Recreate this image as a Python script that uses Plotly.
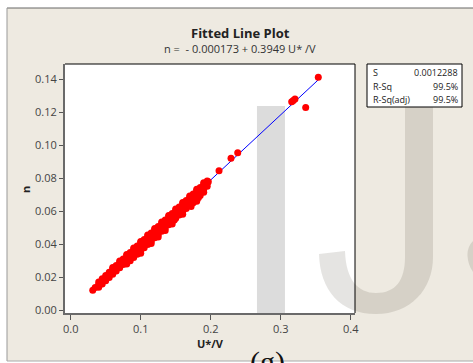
import plotly.graph_objects as go

# ---------------- data ----------------
cloud_x = [0.035, 0.040, 0.045, 0.050, 0.055, 0.060, 0.065, 0.070, 0.075, 0.080,
           0.085, 0.090, 0.095, 0.100, 0.105, 0.110, 0.115, 0.120, 0.125, 0.130,
           0.135, 0.140, 0.145, 0.150, 0.155, 0.160, 0.165, 0.170, 0.175, 0.180,
           0.185, 0.190, 0.195,
           0.040, 0.045, 0.050, 0.055, 0.060, 0.065, 0.070, 0.075, 0.080, 0.085,
           0.090, 0.095, 0.100, 0.105, 0.110, 0.115, 0.120, 0.125, 0.130, 0.135,
           0.140, 0.145, 0.150, 0.155, 0.160, 0.165, 0.170, 0.175, 0.180, 0.185,
           0.190, 0.195,
           0.040, 0.045, 0.050, 0.055, 0.060, 0.065, 0.070, 0.075, 0.080, 0.085,
           0.090, 0.095, 0.100, 0.105, 0.110, 0.115, 0.120, 0.125, 0.130, 0.135,
           0.140, 0.145, 0.150, 0.155, 0.160, 0.165, 0.170, 0.175, 0.180, 0.185,
           0.190, 0.195,
           0.080, 0.085, 0.090, 0.095, 0.100, 0.105, 0.110, 0.115, 0.120, 0.125,
           0.130, 0.135, 0.140, 0.145, 0.150, 0.155, 0.160, 0.165, 0.170, 0.175,
           0.180, 0.185, 0.190,
           0.060, 0.070, 0.080, 0.090, 0.100, 0.110, 0.120, 0.130, 0.140, 0.150,
           0.160, 0.170, 0.180, 0.190,
           0.100, 0.115, 0.125, 0.135, 0.145, 0.160, 0.172, 0.180,
           0.1824, 0.1750, 0.1585, 0.1480, 0.1966]
cloud_y = [0.01365, 0.01562, 0.01760, 0.01957, 0.02155, 0.02352, 0.02550, 0.02747, 0.02944, 0.03142,
           0.03339, 0.03537, 0.03734, 0.03932, 0.04129, 0.04327, 0.04524, 0.04722, 0.04919, 0.05116,
           0.05314, 0.05511, 0.05709, 0.05906, 0.06104, 0.06301, 0.06499, 0.06696, 0.06893, 0.07091,
           0.07288, 0.07486, 0.07683,
           0.01702, 0.01900, 0.02097, 0.02295, 0.02492, 0.02690, 0.02887, 0.03084, 0.03282, 0.03479,
           0.03677, 0.03874, 0.04072, 0.04269, 0.04467, 0.04664, 0.04862, 0.05059, 0.05256, 0.05454,
           0.05651, 0.05849, 0.06046, 0.06244, 0.06441, 0.06639, 0.06836, 0.07033, 0.07231, 0.07428,
           0.07626, 0.07823,
           0.01382, 0.01580, 0.01777, 0.01975, 0.02172, 0.02370, 0.02567, 0.02764, 0.02962, 0.03159,
           0.03357, 0.03554, 0.03752, 0.03949, 0.04147, 0.04344, 0.04542, 0.04739, 0.04936, 0.05134,
           0.05331, 0.05529, 0.05726, 0.05924, 0.06121, 0.06319, 0.06516, 0.06713, 0.06911, 0.07108,
           0.07306, 0.07503,
           0.02792, 0.02989, 0.03187, 0.03384, 0.03582, 0.03779, 0.03977, 0.04174, 0.04372, 0.04569,
           0.04766, 0.04964, 0.05161, 0.05359, 0.05556, 0.05754, 0.05951, 0.06149, 0.06346, 0.06543,
           0.06741, 0.06938, 0.07136,
           0.02572, 0.02967, 0.03362, 0.03757, 0.04152, 0.04547, 0.04942, 0.05336, 0.05731, 0.06126,
           0.06521, 0.06916, 0.07311, 0.07706,
           0.03432, 0.04024, 0.04419, 0.04814, 0.05209, 0.05801, 0.06275, 0.06591,
           0.0680, 0.0650, 0.0585, 0.0545, 0.0778]

sparse_x = [0.0315, 0.2119, 0.2290, 0.2386, 0.3157, 0.3180, 0.3204, 0.3357, 0.3537]
sparse_y = [0.0120, 0.0844, 0.0919, 0.0953, 0.1262, 0.1270, 0.1279, 0.1228, 0.1410]

fit_x = [0.0315, 0.3537]
fit_y = [0.01227, 0.13950]

x_ticks = [0.0, 0.1, 0.2, 0.3, 0.4]
x_tick_text = ["0.0", "0.1", "0.2", "0.3", "0.4"]
y_ticks = [0.00, 0.02, 0.04, 0.06, 0.08, 0.10, 0.12, 0.14]
y_tick_text = ["0.00", "0.02", "0.04", "0.06", "0.08", "0.10", "0.12", "0.14"]

stat_names = ["S", "R-Sq", "R-Sq(adj)"]
stat_values = ["0.0012288", "99.5%", "99.5%"]

title_text = "Fitted Line Plot"
subtitle_text = "n =\u00a0\u00a0- 0.000173 + 0.3949 U* /V"

# ---------------- figure ----------------
W, H = 473, 363
L, R, T, B = 65, 118, 64, 50
PW, PH = W - L - R, H - T - B


def px(xp):
    return (xp - L) / PW


def py(yp):
    return (H - B - yp) / PH


FONT = "Open Sans"
BEIGE = "#EEEAE1"

fig = go.Figure()
fig.add_trace(go.Scatter(x=fit_x, y=fit_y, mode="lines",
                         line=dict(color="#0000FF", width=1), hoverinfo="skip"))
fig.add_trace(go.Scatter(x=cloud_x, y=cloud_y, mode="markers",
                         marker=dict(color="#FF0000", size=7, line=dict(width=0))))
fig.add_trace(go.Scatter(x=sparse_x, y=sparse_y, mode="markers",
                         marker=dict(color="#FF0000", size=7, line=dict(width=0))))

shapes = []
# watermark "I" inside plot (below data)
shapes.append(dict(type="rect", xref="x", yref="y", x0=0.2661, x1=0.3061,
                   y0=-0.0018, y1=0.1236, fillcolor="#DCDCDC", line=dict(width=0),
                   layer="below"))


def P(a, b):
    return f"{px(a):.4f},{py(b):.4f}"


j_path = ("M" + P(405, 107) + " L" + P(433, 107) + " L" + P(433, 257) +
          " C" + P(433, 290) + " " + P(410, 314) + " " + P(376, 314) +
          " C" + P(340, 314) + " " + P(320, 290) + " " + P(319, 254) +
          " L" + P(345, 251) +
          " C" + P(346, 280) + " " + P(358, 293) + " " + P(376, 293) +
          " C" + P(396, 293) + " " + P(405, 280) + " " + P(405, 257) + " Z")
shapes.append(dict(type="path", xref="paper", yref="paper", path=j_path,
                   fillcolor="rgba(40,30,20,0.12)", line=dict(width=0), layer="above"))
s_path = ("M" + P(473, 241) + " Q" + P(467, 247) + " " + P(467.5, 256) +
          " Q" + P(468, 265) + " " + P(473, 272) + " Z")
shapes.append(dict(type="path", xref="paper", yref="paper", path=s_path,
                   fillcolor="rgba(40,30,20,0.12)", line=dict(width=0), layer="above"))

# white outside the frame
shapes.append(dict(type="rect", xref="paper", yref="paper", x0=px(0), x1=px(7),
                   y0=py(H), y1=py(0), fillcolor="white", line=dict(width=0), layer="above"))
shapes.append(dict(type="rect", xref="paper", yref="paper", x0=px(0), x1=px(W),
                   y0=py(8), y1=py(0), fillcolor="white", line=dict(width=0), layer="above"))
shapes.append(dict(type="rect", xref="paper", yref="paper", x0=px(0), x1=px(W),
                   y0=py(H), y1=py(361), fillcolor="white", line=dict(width=0), layer="above"))
# frame lines
shapes.append(dict(type="line", xref="paper", yref="paper", x0=px(7), x1=px(W),
                   y0=py(8), y1=py(8), line=dict(color="#666666", width=1), layer="above"))
shapes.append(dict(type="line", xref="paper", yref="paper", x0=px(7), x1=px(7),
                   y0=py(8), y1=py(361), line=dict(color="#999999", width=1), layer="above"))
shapes.append(dict(type="line", xref="paper", yref="paper", x0=px(7), x1=px(W),
                   y0=py(361), y1=py(361), line=dict(color="#AAAAAA", width=1), layer="above"))
# top/right plot frame
shapes.append(dict(type="line", xref="paper", yref="paper", x0=0, x1=1, y0=1, y1=1,
                   line=dict(color="black", width=1), layer="above"))
shapes.append(dict(type="line", xref="paper", yref="paper", x0=1, x1=1, y0=0, y1=1,
                   line=dict(color="black", width=1), layer="above"))
# stats box
shapes.append(dict(type="rect", xref="paper", yref="paper", x0=px(367), x1=px(462),
                   y0=py(107), y1=py(64), fillcolor="white",
                   line=dict(color="black", width=1), layer="above"))

ann = []
ann.append(dict(text="<b>" + title_text + "</b>", x=px(240), y=py(33), xref="paper", yref="paper",
                showarrow=False, font=dict(family=FONT, size=13, color="#222222"),
                xanchor="center", yanchor="middle"))
ann.append(dict(text=subtitle_text, x=px(240), y=py(49), xref="paper", yref="paper",
                showarrow=False, font=dict(family=FONT, size=11, color="#333333"),
                xanchor="center", yanchor="middle"))
ann.append(dict(text="<b>U*/V</b>", x=px(210), y=py(343), xref="paper", yref="paper",
                showarrow=False, font=dict(family=FONT, size=11, color="#222222"),
                xanchor="center", yanchor="middle"))
ann.append(dict(text="<b>n</b>", x=px(25), y=py(190), xref="paper", yref="paper",
                showarrow=False, textangle=-90, font=dict(family=FONT, size=11, color="#222222"),
                xanchor="center", yanchor="middle"))
row_y = [72.7, 86.7, 99.5]
for name, val, ry in zip(stat_names, stat_values, row_y):
    ann.append(dict(text=name, x=px(371), y=py(ry), xref="paper", yref="paper",
                    showarrow=False, font=dict(family=FONT, size=9, color="#222222"),
                    xanchor="left", yanchor="middle"))
    ann.append(dict(text=val, x=px(460), y=py(ry), xref="paper", yref="paper",
                    showarrow=False, font=dict(family=FONT, size=9, color="#222222"),
                    xanchor="right", yanchor="middle"))
ann.append(dict(text="(g)", x=px(267), y=py(343), xref="paper", yref="paper",
                showarrow=False, font=dict(family="Liberation Serif", size=30, color="#111111"),
                xanchor="center", yanchor="top"))

fig.update_layout(
    width=W, height=H, margin=dict(l=L, r=R, t=T, b=B, pad=0),
    paper_bgcolor=BEIGE, plot_bgcolor="white", showlegend=False,
    shapes=shapes, annotations=ann,
    font=dict(family=FONT, size=11, color="#444444"),
    xaxis=dict(range=[-0.00814, 0.40614], tickvals=x_ticks, ticktext=x_tick_text,
               showgrid=False, zeroline=False, showline=True, linecolor="#6A6A6A",
               linewidth=2, ticks="outside", ticklen=5, tickcolor="#555555", tickwidth=1,
               tickfont=dict(family=FONT, size=11, color="#444444")),
    yaxis=dict(range=[-0.00182, 0.14909], tickvals=y_ticks, ticktext=y_tick_text,
               showgrid=False, zeroline=False, showline=True, linecolor="#6A6A6A",
               linewidth=2, ticks="outside", ticklen=4, tickcolor="#555555", tickwidth=1,
               tickfont=dict(family=FONT, size=11, color="#444444")),
)

fig.write_html("out.html")
